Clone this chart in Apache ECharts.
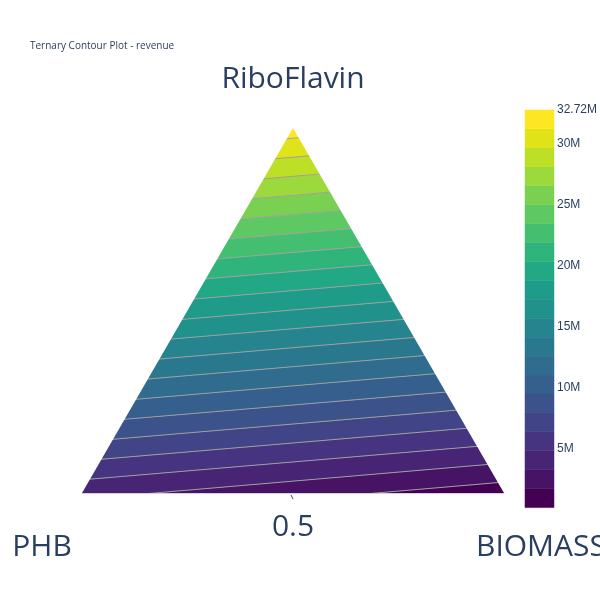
<!DOCTYPE html>
<html>
<head>
<meta charset="utf-8">
<script src="https://cdn.jsdelivr.net/npm/echarts@6/dist/echarts.min.js"></script>
<style>html,body{margin:0;padding:0;background:#fff}#main{width:600px;height:600px}</style>
</head>
<body>
<div id="main"></div>
<script>
// contour lines: RiboFlavin height at the PHB side (x=0) and BIOMASS side (x=1)
const lineY0 = [-0.069, -0.017, 0.036, 0.088, 0.140, 0.192, 0.244, 0.297, 0.349, 0.401,
  0.452, 0.505, 0.558, 0.610, 0.662, 0.714, 0.766, 0.818, 0.871, 0.923];
const lineY1 = [0.030, 0.082, 0.134, 0.186, 0.238, 0.290, 0.343, 0.395, 0.447, 0.499,
  0.551, 0.604, 0.656, 0.708, 0.760, 0.812, 0.865, 0.917, 0.969, 1.021];
// colour bar level boundaries (M)
const levels = [0.2, 1.75, 3.3, 4.85, 6.39, 7.94, 9.49, 11.04, 12.59, 14.14, 15.69,
  17.24, 18.79, 20.33, 21.88, 23.43, 24.98, 26.53, 28.08, 29.63, 31.18, 32.72];
const colors = ['#440154', '#471365', '#482475', '#463480', '#414487', '#3b528b', '#355f8d',
  '#2f6c8e', '#2a788e', '#25848e', '#21918c', '#1e9c89', '#22a884', '#2fb47c', '#44bf70',
  '#5ec962', '#7ad151', '#9bd93c', '#bddf26', '#dfe318', '#fde725'];

const chart = echarts.init(document.getElementById('main'));
const textColor = '#2a3f5f';

// bands: lower and upper line for each colour
const bands = colors.map((c, j) => {
  const lo0 = j === 0 ? -0.3 : lineY0[j - 1];
  const lo1 = j === 0 ? -0.3 : lineY1[j - 1];
  const hi0 = j === colors.length - 1 ? 1.2 : lineY0[j];
  const hi1 = j === colors.length - 1 ? 1.2 : lineY1[j];
  return [lo0, lo1, hi0, hi1, j];
});

const option = {
  animation: false,
  grid: [
    { left: 82, right: 96, top: 128, bottom: 107 },
    { left: 525, width: 30, top: 110, height: 400 }
  ],
  xAxis: [
    { gridIndex: 0, min: 0, max: 1, show: false },
    { gridIndex: 1, min: 0, max: 1, show: false }
  ],
  yAxis: [
    { gridIndex: 0, min: 0, max: 1, show: false },
    {
      gridIndex: 1, min: 0, max: 32.72, interval: 5, position: 'right',
      axisLine: { show: false }, axisTick: { show: false }, splitLine: { show: false },
      axisLabel: { color: textColor, fontSize: 12, margin: 3, formatter: v => v ? v + 'M' : '' }
    }
  ],
  series: [
    {
      type: 'custom', xAxisIndex: 0, yAxisIndex: 0, clip: true, z: 1,
      data: bands,
      renderItem: (params, api) => {
        const pts = [
          api.coord([0, api.value(0)]), api.coord([1, api.value(1)]),
          api.coord([1, api.value(3)]), api.coord([0, api.value(2)])
        ];
        return { type: 'polygon', shape: { points: pts },
          style: { fill: colors[api.value(4)], stroke: colors[api.value(4)], lineWidth: 0.5 } };
      }
    },
    {
      type: 'custom', xAxisIndex: 0, yAxisIndex: 0, clip: true, z: 2,
      data: lineY0.map((v, i) => [v, lineY1[i]]),
      renderItem: (params, api) => ({
        type: 'line',
        shape: { x1: api.coord([0, api.value(0)])[0], y1: api.coord([0, api.value(0)])[1],
          x2: api.coord([1, api.value(1)])[0], y2: api.coord([1, api.value(1)])[1] },
        style: { stroke: '#a0a0a0', lineWidth: 1 }
      })
    },
    {
      // white masks outside the ternary triangle
      type: 'custom', xAxisIndex: 0, yAxisIndex: 0, clip: false, z: 3,
      data: [[0], [1]],
      renderItem: (params, api) => {
        const s = api.value(0);
        const pts = s === 0
          ? [api.coord([0, 0]), api.coord([0.5, 1]), api.coord([-0.01, 1.01]), api.coord([-0.01, -0.01])]
          : [api.coord([1, 0]), api.coord([0.5, 1]), api.coord([1.01, 1.01]), api.coord([1.01, -0.01])];
        return { type: 'polygon', shape: { points: pts }, style: { fill: '#fff' } };
      }
    },
    {
      type: 'custom', xAxisIndex: 1, yAxisIndex: 1, z: 1,
      data: colors.map((c, j) => [levels[j], levels[j + 1], j]),
      renderItem: (params, api) => {
        const a = api.coord([0, api.value(0)]);
        const b = api.coord([1, api.value(1)]);
        return { type: 'rect', shape: { x: a[0], y: b[1], width: b[0] - a[0], height: a[1] - b[1] },
          style: { fill: colors[api.value(2)], stroke: colors[api.value(2)], lineWidth: 0.5 } };
      }
    }
  ],
  graphic: [
    { type: 'text', left: 30, top: 41, style: { text: 'Ternary Contour Plot - revenue', fill: textColor, fontSize: 10, fontFamily: 'Open Sans' } },
    { type: 'text', x: 293, y: 79, style: { text: 'RiboFlavin', fill: textColor, fontSize: 30, fontFamily: 'Open Sans', align: 'center', verticalAlign: 'middle' } },
    { type: 'text', x: 178, y: 305, style: { text: '0.5', fill: textColor, fontSize: 30, fontFamily: 'Open Sans', align: 'right', verticalAlign: 'middle' } },
    { type: 'text', x: 408, y: 305, style: { text: '0.5', fill: textColor, fontSize: 30, fontFamily: 'Open Sans', align: 'left', verticalAlign: 'middle' } },
    { type: 'text', x: 293, y: 527, style: { text: '0.5', fill: textColor, fontSize: 30, fontFamily: 'Open Sans', align: 'center', verticalAlign: 'middle' } },
    { type: 'text', x: 42, y: 547, style: { text: 'PHB', fill: textColor, fontSize: 30, fontFamily: 'Open Sans', align: 'center', verticalAlign: 'middle' } },
    { type: 'text', x: 476, y: 547, style: { text: 'BIOMASS', fill: textColor, fontSize: 30, fontFamily: 'Open Sans', align: 'left', verticalAlign: 'middle' } },
    { type: 'line', shape: { x1: 182, y1: 308, x2: 187, y2: 308 }, style: { stroke: '#444', lineWidth: 1 } },
    { type: 'line', shape: { x1: 401, y1: 311, x2: 404, y2: 307 }, style: { stroke: '#444', lineWidth: 1 } },
    { type: 'line', shape: { x1: 291, y1: 495, x2: 293, y2: 499 }, style: { stroke: '#444', lineWidth: 1 } },
    { type: 'line', shape: { x1: 82, y1: 493, x2: 504, y2: 493 }, style: { stroke: '#b0a0c0', lineWidth: 1 } }
  ]
};
chart.setOption(option);
</script>
</body>
</html>
